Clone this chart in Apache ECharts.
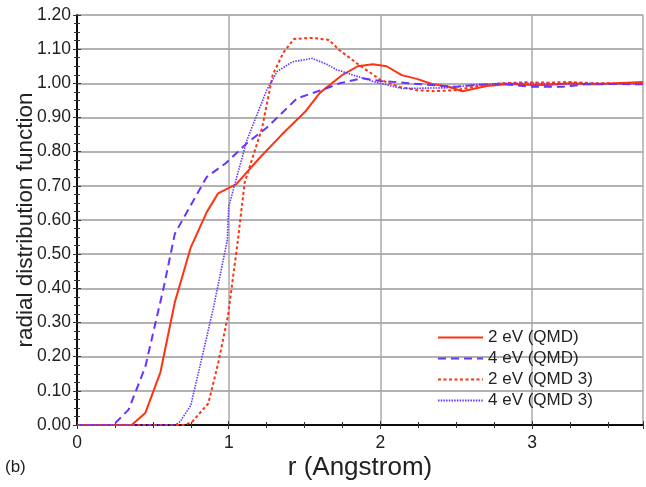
<!DOCTYPE html>
<html style="height: 100%">
<head>
  <meta charset="utf-8">
  <title>radial distribution function</title>
  <script src="https://cdn.jsdelivr.net/npm/echarts@6/dist/echarts.min.js"></script>
</head>
<body style="height: 100%; margin: 0; background: #fff">
<div id="container" style="width: 646px; height: 487px;"></div>
<script type="text/javascript">
  // [r, g(r)]
  var qmd2 = [[0, 0], [0.36, 0], [0.45, 0.035], [0.55, 0.155], [0.645, 0.36], [0.75, 0.52], [0.855, 0.623],
    [0.93, 0.678], [1.05, 0.705], [1.2, 0.78], [1.35, 0.85], [1.51, 0.92], [1.6, 0.972], [1.75, 1.025],
    [1.85, 1.05], [1.95, 1.056], [2.04, 1.05], [2.14, 1.024], [2.24, 1.013], [2.34, 0.998], [2.45, 0.99],
    [2.54, 0.977], [2.7, 0.992], [2.85, 0.998], [3.0, 0.995], [3.1, 0.995], [3.25, 1.0], [3.4, 0.997],
    [3.55, 1.0], [3.73, 1.004]];
  var qmd4 = [[0, 0], [0.24, 0], [0.34, 0.045], [0.45, 0.17], [0.57, 0.4], [0.645, 0.56], [0.72, 0.62],
    [0.855, 0.726], [0.98, 0.766], [1.12, 0.825], [1.25, 0.87], [1.45, 0.956], [1.64, 0.985], [1.73, 1.0],
    [1.88, 1.015], [2.0, 1.007], [2.15, 1.002], [2.3, 0.996], [2.5, 0.99], [2.65, 0.996], [2.8, 0.998],
    [3.0, 0.99], [3.2, 0.99], [3.35, 0.997], [3.55, 0.998], [3.73, 0.997]];
  var qmd2b = [[0, 0], [0.71, 0], [0.76, 0.01], [0.865, 0.063], [0.93, 0.18], [0.995, 0.32], [1.06, 0.54],
    [1.105, 0.71], [1.22, 0.87], [1.29, 1.025], [1.36, 1.09], [1.43, 1.13], [1.55, 1.133], [1.66, 1.127],
    [1.73, 1.097], [1.84, 1.06], [2.0, 1.01], [2.12, 0.99], [2.24, 0.98], [2.36, 0.977], [2.5, 0.98],
    [2.65, 0.993], [2.8, 1.0], [2.95, 1.003], [3.1, 1.002], [3.25, 1.004], [3.4, 1.0], [3.55, 1.0], [3.73, 1.0]];
  var qmd4b = [[0, 0], [0.645, 0], [0.68, 0.01], [0.75, 0.058], [0.83, 0.21], [0.9, 0.345], [0.99, 0.54],
    [1.0, 0.64], [1.12, 0.834], [1.25, 0.98], [1.32, 1.035], [1.42, 1.063], [1.55, 1.073], [1.65, 1.055],
    [1.71, 1.04], [1.85, 1.02], [1.97, 1.003], [2.14, 0.985], [2.3, 0.986], [2.45, 0.987], [2.6, 0.995],
    [2.8, 1.0], [3.0, 1.0], [3.2, 0.998], [3.4, 1.0], [3.55, 0.998], [3.73, 0.998]];
  var names = ['2 eV (QMD)', '4 eV (QMD)', '2 eV (QMD 3)', '4 eV (QMD 3)'];
  var xTicks = ['0', '1', '2', '3'];

  var red = '#ff3311', blue = '#6633ff';
  var font = 'Liberation Sans, Arial, Helvetica, sans-serif';
  var dom = document.getElementById('container');
  var myChart = echarts.init(dom);

  var baseX = {
    type: 'value', min: 0, max: 3.73, interval: 1,
    axisLine: { lineStyle: { color: '#000', width: 1.5 } },
    axisTick: { inside: true, length: 4, lineStyle: { color: '#333' } },
    minorTick: { show: true, splitNumber: 4, length: 3, lineStyle: { color: '#333' } }
  };
  var baseY = {
    type: 'value', min: 0, max: 1.2, interval: 0.1,
    axisLine: { lineStyle: { color: '#000', width: 1.5 } },
    axisTick: { inside: true, length: 4, lineStyle: { color: '#333' } },
    minorTick: { show: true, splitNumber: 4, length: 3, lineStyle: { color: '#333' } }
  };

  function mk(name, data, color, type, width) {
    return {
      name: name, type: 'line', data: data, showSymbol: false, symbol: 'none',
      lineStyle: { color: color, type: type, width: width },
      itemStyle: { color: color }
    };
  }

  var option = {
    animation: false,
    textStyle: { fontFamily: font },
    grid: { left: 77, top: 15, right: 3, bottom: 62, containLabel: false, outerBoundsMode: 'none' },
    legend: {
      data: names, orient: 'vertical', left: 432, top: 324,
      itemWidth: 45, itemHeight: 10, itemGap: 4,
      itemStyle: { opacity: 0, borderWidth: 0 },
      textStyle: { fontSize: 17, color: '#222', fontFamily: font }
    },
    xAxis: [
      echarts.util.merge({
        position: 'bottom',
        name: 'r (Angstrom)', nameLocation: 'middle', nameGap: 30, nameMoveOverlap: false,
        nameTextStyle: { fontSize: 26, color: '#222' },
        axisLabel: {
          fontSize: 17.5, color: '#222', margin: 9, showMaxLabel: false,
          formatter: function (v) { return xTicks[Math.round(v)] || ''; }
        },
        splitLine: { show: true, lineStyle: { color: '#aaa', width: 1.5 } }
      }, baseX, true),
      echarts.util.merge({
        position: 'top', axisLabel: { show: false }, splitLine: { show: false }
      }, baseX, true)
    ],
    yAxis: [
      echarts.util.merge({
        position: 'left',
        name: 'radial distribution function', nameLocation: 'middle', nameGap: 40, nameMoveOverlap: false,
        nameTextStyle: { fontSize: 22.5, color: '#222' },
        axisLabel: {
          fontSize: 17.5, color: '#222', margin: 6,
          formatter: function (v) { return v.toFixed(2); }
        },
        splitLine: { show: true, lineStyle: { color: '#999', width: 1.5 } }
      }, baseY, true),
      echarts.util.merge({
        position: 'right', axisLabel: { show: false }, splitLine: { show: false }
      }, baseY, true)
    ],
    graphic: [{
      type: 'text', left: 5, top: 459,
      style: { text: '(b)', fontSize: 17, fill: '#222', fontFamily: font }
    }],
    series: [
      mk(names[0], qmd2, red, 'solid', 2),
      mk(names[1], qmd4, blue, [8, 5], 2),
      mk(names[2], qmd2b, red, [3, 2.5], 2),
      mk(names[3], qmd4b, blue, [1.5, 1.2], 1.6)
    ]
  };

  myChart.setOption(option, true);
</script>
</body>
</html>
